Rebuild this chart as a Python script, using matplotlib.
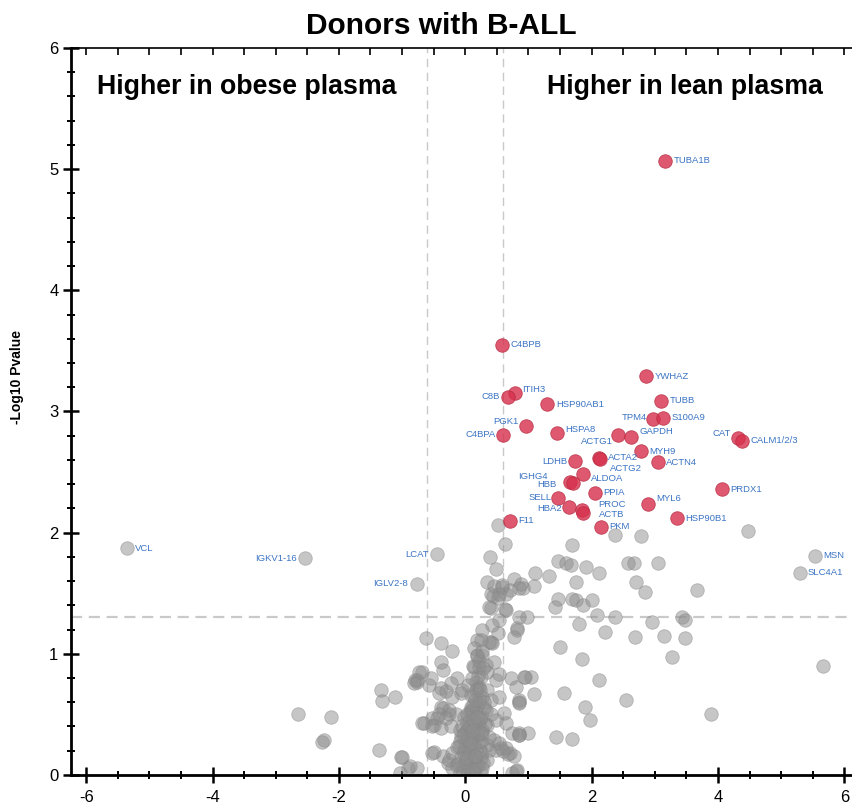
import numpy as np
import matplotlib.pyplot as plt
from matplotlib.ticker import MultipleLocator

plt.rcParams['font.family'] = ['Liberation Sans', 'DejaVu Sans']
plt.rcParams['axes.unicode_minus'] = False

# Significant proteins (higher in lean plasma)
hit_names = ['TUBA1B', 'C4BPB', 'YWHAZ', 'ITIH3', 'C8B', 'HSP90AB1', 'TUBB', 'TPM4',
             'S100A9', 'PGK1', 'C4BPA', 'HSPA8', 'ACTG1', 'GAPDH', 'CAT', 'CALM1/2/3',
             'MYH9', 'LDHB', 'ACTA2', 'ACTG2', 'ACTN4', 'IGHG4', 'HBB', 'ALDOA',
             'PRDX1', 'PPIA', 'SELL', 'MYL6', 'HBA2', 'PROC', 'ACTB', 'HSP90B1',
             'F11', 'PKM']
hit_fc = [3.16, 0.58, 2.86, 0.79, 0.68, 1.30, 3.10, 2.97,
          3.13, 0.96, 0.60, 1.45, 2.42, 2.62, 4.31, 4.38,
          2.78, 1.74, 2.12, 2.13, 3.05, 1.66, 1.71, 1.86,
          4.06, 2.05, 1.47, 2.89, 1.64, 1.84, 1.86, 3.35,
          0.70, 2.15]
hit_p = [5.07, 3.55, 3.29, 3.15, 3.12, 3.06, 3.09, 2.94,
         2.95, 2.88, 2.81, 2.82, 2.81, 2.79, 2.78, 2.76,
         2.67, 2.59, 2.62, 2.61, 2.58, 2.42, 2.41, 2.48,
         2.36, 2.33, 2.29, 2.24, 2.21, 2.19, 2.16, 2.12,
         2.10, 2.05]

# Non-significant proteins that still get a name
named_names = ['VCL', 'IGKV1-16', 'LCAT', 'IGLV2-8', 'MSN', 'SLC4A1']
named_fc = [-5.36, -2.53, -0.44, -0.77, 5.53, 5.29]
named_p = [1.87, 1.79, 1.82, 1.58, 1.81, 1.67]

# Remaining proteins
other_fc = [0.52, 0.63, 2.37, 2.78, 4.47, 1.69, 0.39, 0.49, 0.35, 1.47, 1.59, 1.67,
            1.91, 2.12, 1.11, 1.33, 1.09, 0.77, 0.88, 0.92, 0.58, 0.70, 0.65, 0.51,
            0.44, 1.75, 2.58, 2.67, 3.05, 2.70, 2.84, 3.67, 1.47, 1.69, 1.75, 1.86,
            2.01, 1.42, 0.41, 0.63, 0.85, 0.98, 2.09, 2.37, 1.80, 2.95, 3.43, 3.48,
            2.21, 2.69, 3.14, 3.48, 0.82, 0.77, 0.27, 0.38, 0.43, 1.50, 1.85, 3.27,
            5.66, 2.12, 2.54, 3.89, 1.56, 1.90, 1.97, 1.44, 1.69, 1.09, 0.85, 0.73,
            0.81, 0.95, 1.04, 0.74, 0.85, 1.00, 0.68, 0.80, 0.57, 0.49,
            -2.65, -2.12, -2.23, -2.26, -1.37, -1.34, -1.31, -1.11, -1.01, -0.90,
            -0.76, -1.04, -0.62, -0.39, -0.21, -0.38, -0.36, -0.68, -0.79, -0.76,
            -0.58, -0.13, -0.05, -0.38, -0.30, -0.21, -0.36, -0.25, -0.44, -0.49,
            -0.68, -0.52, -0.36, -0.28, 0.14, 0.19, 0.19,
            0.38, 0.54, 0.43, 0.65, 0.82, 0.25, 0.41, 0.51, 0.27, 0.46, 0.33, 0.22,
            0.25, 0.35, 0.49, 0.54, -0.73, -0.77, -0.81, -0.54, -0.22, -0.06, -0.41,
            0.93, 0.22, 0.35, 0.27, 0.41, 0.54, 0.85,
            -0.38, -0.25, -0.41, -0.52, -0.14, -0.30,
            0.09, 0.22, 0.17, 0.33, 0.27, 0.41, 0.06, 0.22, 0.35, 0.49, 0.62, 0.65,
            -0.65, -0.52, -0.38, -0.22, -0.09,
            -0.02, 0.09, 0.17, 0.27, 0.38, 0.02, 0.11, 0.25, 0.35, 0.46,
            -0.13, -0.02, 0.06, 0.17, 0.27, 0.38, -0.21, -0.06, 0.03, 0.14, 0.25,
            0.35, -0.25,
            -0.14, -0.05, 0.06, 0.17, 0.27, -0.21, 0.02, 0.14, 0.25, -0.09,
            0.54, 0.65, 0.70, 0.77, 0.85, -0.49, -1.00, -0.88, 0.74, 0.82,
            -0.02, 0.02, -0.05, 0.03, 0.09, 0.14, 0.19, 0.17,
            0.46, 0.58, 0.54, 0.41, 0.85, 0.85, 0.85, 0.60,
            0.05, 0.10, 0.00, 0.12, 0.08, -0.08, 0.20, 0.30, 0.15, -0.03,
            # dense core near zero fold change
            0.04, 0.12, 0.20, 0.28, -0.04, -0.12, 0.08, 0.16, 0.24, 0.00,
            0.06, 0.14, 0.22, -0.02, -0.10, 0.10, 0.18, 0.26, 0.02, 0.32,
            0.07, 0.15, 0.23, -0.06, 0.11, 0.19, 0.03, 0.13, 0.21, 0.29,
            0.09, 0.17, 0.05, 0.13, 0.25, 0.01, 0.11, 0.19, 0.07, 0.15,
            0.16, 0.20, 0.12, 0.24, 0.18, 0.22, 0.10, 0.28, 0.14, 0.26]
other_p = [2.06, 1.91, 1.98, 1.97, 2.01, 1.90, 1.80, 1.70, 1.59, 1.77, 1.75, 1.73,
           1.72, 1.67, 1.67, 1.64, 1.56, 1.62, 1.58, 1.54, 1.57, 1.53, 1.49, 1.46,
           1.48, 1.59, 1.75, 1.75, 1.75, 1.59, 1.51, 1.53, 1.45, 1.45, 1.44, 1.40,
           1.44, 1.39, 1.38, 1.37, 1.30, 1.30, 1.32, 1.30, 1.25, 1.26, 1.30, 1.28,
           1.18, 1.14, 1.15, 1.13, 1.21, 1.14, 1.20, 1.10, 1.09, 1.06, 0.96, 0.97,
           0.90, 0.78, 0.62, 0.50, 0.68, 0.56, 0.45, 0.31, 0.30, 0.67, 0.60, 0.80,
           0.73, 0.81, 0.81, 0.35, 0.33, 0.35, 0.17, 0.03, 0.22, 0.21,
           0.50, 0.48, 0.29, 0.27, 0.21, 0.70, 0.61, 0.64, 0.15, 0.06,
           0.06, 0.02, 1.13, 1.09, 1.02, 0.93, 0.87, 0.85, 0.78, 0.77,
           0.74, 0.80, 0.70, 0.72, 0.69, 0.64, 0.55, 0.50, 0.47, 0.41,
           0.43, 0.18, 0.16, 0.10, 0.89, 1.11, 0.99,
           1.39, 1.28, 1.24, 1.36, 1.20, 1.11, 1.10, 1.17, 0.99, 0.93, 0.91, 0.89,
           0.81, 0.85, 0.78, 0.83, 0.85, 0.78, 0.76, 0.80, 0.76, 0.68, 0.68,
           0.81, 0.73, 0.70, 0.64, 0.62, 0.64, 0.62,
           0.56, 0.54, 0.50, 0.47, 0.50, 0.47,
           0.56, 0.59, 0.51, 0.54, 0.48, 0.50, 0.45, 0.43, 0.41, 0.45, 0.51, 0.43,
           0.43, 0.40, 0.39, 0.40, 0.37,
           0.35, 0.35, 0.31, 0.35, 0.31, 0.29, 0.26, 0.27, 0.25, 0.29,
           0.23, 0.21, 0.19, 0.21, 0.18, 0.21, 0.18, 0.15, 0.14, 0.12, 0.14,
           0.12, 0.12,
           0.08, 0.07, 0.06, 0.07, 0.06, 0.06, 0.02, 0.02, 0.02, 0.02,
           0.26, 0.22, 0.18, 0.16, 0.35, 0.19, 0.15, 0.07, 0.02, 0.04,
           0.48, 0.43, 0.40, 0.37, 0.54, 0.64, 0.72, 0.77,
           1.56, 1.55, 1.49, 1.49, 1.54, 0.59, 0.33, 0.20,
           0.10, 0.30, 0.25, 0.40, 0.52, 0.28, 0.38, 0.55, 0.05, 0.33,
           0.04, 0.05, 0.08, 0.10, 0.03, 0.09, 0.13, 0.16, 0.20, 0.11,
           0.22, 0.25, 0.28, 0.18, 0.24, 0.31, 0.34, 0.37, 0.30, 0.42,
           0.40, 0.44, 0.47, 0.32, 0.52, 0.56, 0.50, 0.58, 0.62, 0.60,
           0.66, 0.70, 0.74, 0.45, 0.35, 0.14, 0.36, 0.48, 0.26, 0.16,
           0.62, 0.82, 0.90, 0.70, 0.98, 0.94, 0.80, 0.88, 1.05, 1.02]

# label placement: (dx, dy) in points and alignment
hit_offsets = {
    'C8B': (-6, 0, 'right'), 'TPM4': (-4, 1, 'right'), 'PGK1': (-5, 3, 'right'),
    'C4BPA': (-5, 0, 'right'), 'ACTG1': (-4, -5, 'right'), 'CAT': (-5, 3, 'right'),
    'LDHB': (-6, 0, 'right'), 'IGHG4': (-16, 4, 'right'), 'HBB': (-12, -1, 'right'),
    'SELL': (-5, 0, 'right'), 'HBA2': (-5, -1, 'right'), 'ITIH3': (5, 3, 'left'),
    'HSPA8': (6, 3, 'left'), 'GAPDH': (6, 4, 'left'), 'ACTG2': (7, -7, 'left'),
    'ALDOA': (6, -3, 'left'), 'MYL6': (6, 4, 'left'), 'PROC': (12, 4, 'left'),
    'ACTB': (12, -1, 'left'),
}
named_offsets = {
    'IGKV1-16': (-6, 0, 'right'), 'LCAT': (-6, 0, 'right'), 'IGLV2-8': (-6, 0, 'right'),
}

label_color = '#3b74c4'

fig = plt.figure(figsize=(8.52, 8.07), dpi=100)
ax = fig.add_axes([0.0833, 0.0397, 0.9167, 0.9008])

ax.axhline(1.3, color='#c9c9c9', lw=1.6, ls=(0, (5, 3)), zorder=1)
ax.axvline(-0.6, color='#c9c9c9', lw=1.0, ls=(0, (6, 4)), zorder=1)
ax.axvline(0.6, color='#c9c9c9', lw=1.0, ls=(0, (6, 4)), zorder=1)

ax.scatter(other_fc, other_p, s=95, color='#8e8e8e', alpha=0.5,
           edgecolors='#858585', linewidths=0.6, zorder=2)
ax.scatter(named_fc, named_p, s=95, color='#8e8e8e', alpha=0.5,
           edgecolors='#858585', linewidths=0.6, zorder=2)
ax.scatter(hit_fc, hit_p, s=95, color='#d6304c', alpha=0.8,
           edgecolors='#b8283f', linewidths=0.6, zorder=3)

for name, x, y in zip(hit_names, hit_fc, hit_p):
    dx, dy, ha = hit_offsets.get(name, (6, 0, 'left'))
    ax.annotate(name, (x, y), xytext=(dx, dy), textcoords='offset points',
                ha=ha, va='center', fontsize=6.8, color=label_color, zorder=4)

for name, x, y in zip(named_names, named_fc, named_p):
    dx, dy, ha = named_offsets.get(name, (6, 0, 'left'))
    ax.annotate(name, (x, y), xytext=(dx, dy), textcoords='offset points',
                ha=ha, va='center', fontsize=6.8, color=label_color, zorder=4)

ax.text(-5.83, 5.68, 'Higher in obese plasma', fontsize=19.3, fontweight='bold',
        ha='left', va='center')
ax.text(1.29, 5.68, 'Higher in lean plasma', fontsize=19.3, fontweight='bold',
        ha='left', va='center')

ax.set_xlim(-6.24, 6.12)
ax.set_ylim(0, 6)
ax.xaxis.set_major_locator(MultipleLocator(2))
ax.xaxis.set_minor_locator(MultipleLocator(0.5))
ax.yaxis.set_major_locator(MultipleLocator(1))
ax.yaxis.set_minor_locator(MultipleLocator(0.2))

ax.spines['right'].set_visible(False)
for side in ['left', 'bottom']:
    ax.spines[side].set_linewidth(2)
ax.spines['top'].set_linewidth(1.2)

ax.tick_params(axis='both', which='major', direction='inout', length=11, width=1.8,
               labelsize=12, colors='black')
ax.tick_params(axis='both', which='minor', direction='inout', length=6, width=1.4)
ax.tick_params(axis='x', which='major', pad=5)

# top edge only has short inward ticks
top = ax.secondary_xaxis('top')
top.xaxis.set_major_locator(MultipleLocator(0.5))
top.tick_params(direction='in', length=5, width=1.2, labeltop=False)
top.spines['top'].set_visible(False)

ax.set_ylabel('-Log10 Pvalue', fontsize=10, fontweight='bold')
ax.yaxis.set_label_coords(-0.060, 0.547)
fig.text(441 / 852, 1 - 26 / 807, 'Donors with B-ALL', fontsize=21.5,
         fontweight='bold', ha='center', va='center')

fig.savefig('out.png', dpi=100)
